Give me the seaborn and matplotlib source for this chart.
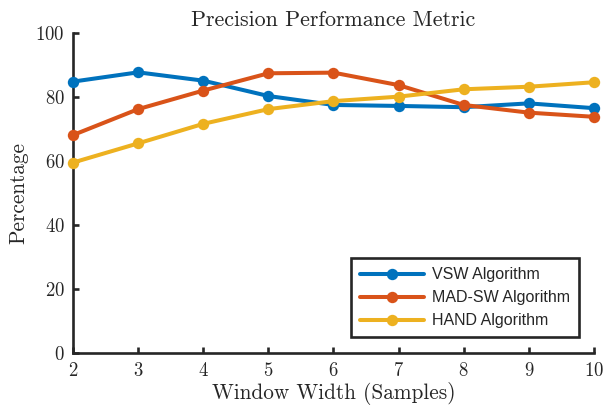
import matplotlib
matplotlib.use("Agg")
import matplotlib.pyplot as plt
import seaborn as sns
import pandas as pd

window = [2, 3, 4, 5, 6, 7, 8, 9, 10]
vsw = [84.9, 87.8, 85.2, 80.4, 77.6, 77.3, 76.9, 78.1, 76.6]
mad_sw = [68.2, 76.3, 82.1, 87.5, 87.7, 83.8, 77.6, 75.2, 73.9]
hand = [59.6, 65.6, 71.7, 76.3, 78.8, 80.2, 82.5, 83.3, 84.7]
names = ["VSW Algorithm", "MAD-SW Algorithm", "HAND Algorithm"]
colors = ["#0072BD", "#D95319", "#EDB120"]
yticks = [0, 20, 40, 60, 80, 100]

rows = []
for name, vals in zip(names, [vsw, mad_sw, hand]):
    for w, v in zip(window, vals):
        rows.append({"Window": w, "Value": v, "Algorithm": name})
df = pd.DataFrame(rows)

sns.set_style("ticks")
plt.rcParams["font.family"] = ["cmr10", "DejaVu Serif"]
plt.rcParams["mathtext.fontset"] = "cm"
plt.rcParams["axes.formatter.use_mathtext"] = True

fig = plt.figure(figsize=(6.04, 4.13), dpi=100)
ax = fig.add_axes([0.1209, 0.1446, 0.8625, 0.7748])

sns.lineplot(data=df, x="Window", y="Value", hue="Algorithm", hue_order=names,
             palette=colors, marker="o", markersize=8.2, markeredgewidth=0,
             linewidth=2.9, ax=ax, clip_on=False, zorder=3)

ax.set_xlim(2, 10)
ax.set_ylim(0, 100)
ax.set_xticks(window)
ax.set_yticks(yticks)
for s in ["top", "right"]:
    ax.spines[s].set_visible(False)
for s in ["left", "bottom"]:
    ax.spines[s].set_linewidth(1.9)
    ax.spines[s].set_color("#262626")
ax.tick_params(direction="in", length=4, width=1.9, color="#262626",
               labelsize=13.5, labelcolor="#262626", pad=6)
ax.set_xlabel("Window Width (Samples)", fontsize=15.3, color="#262626", labelpad=2)
ax.set_ylabel("Percentage", fontsize=15.3, color="#262626", labelpad=5)
ax.set_title("Precision Performance Metric", fontsize=15.8, color="#262626", pad=5)

leg = ax.legend(loc="lower left", bbox_to_anchor=(0.534, 0.051), borderaxespad=0,
                prop={"family": "Liberation Sans", "size": 11.5},
                handlelength=4.0, fancybox=False, frameon=True,
                borderpad=0.55, labelspacing=0.5, handletextpad=0.5)
leg.get_frame().set_edgecolor("#262626")
leg.get_frame().set_linewidth(1.9)
leg.get_frame().set_alpha(1)

fig.savefig("out.png", dpi=100)
